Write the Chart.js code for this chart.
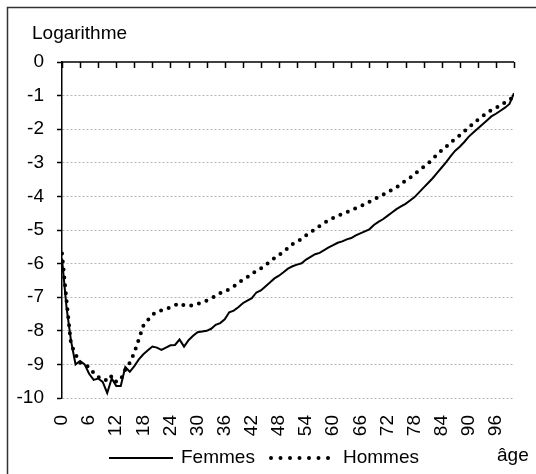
<!DOCTYPE html>
<html>
<head>
<meta charset="utf-8">
<script src="https://cdn.jsdelivr.net/npm/chart.js@4.4.0/dist/chart.umd.min.js"></script>
<style>
  body { margin: 0; background: #fff; }
  #wrap { width: 536px; height: 474px; }
</style>
</head>
<body>
<div id="wrap"><canvas id="chart" width="536" height="474"></canvas></div>
<script>
// ages 0..100
const ages = Array.from({ length: 101 }, (_, i) => i);

// log mortality, women
const femmes = [
  -5.85, -7.3, -8.3, -9.0, -8.9, -9.0, -9.28, -9.46, -9.42, -9.52,
  -9.85, -9.42, -9.64, -9.64, -9.08, -9.22, -9.05, -8.85, -8.7, -8.58,
  -8.47, -8.5, -8.57, -8.5, -8.43, -8.42, -8.26, -8.47, -8.28, -8.15,
  -8.04, -8.02, -8.0, -7.94, -7.82, -7.77, -7.66, -7.45, -7.4, -7.3,
  -7.18, -7.1, -7.03, -6.86, -6.8, -6.68, -6.56, -6.44, -6.36, -6.26,
  -6.15, -6.08, -6.03, -5.99, -5.88, -5.8, -5.72, -5.68, -5.6, -5.52,
  -5.45, -5.38, -5.34, -5.28, -5.24, -5.16, -5.1, -5.04, -4.98, -4.85,
  -4.76, -4.68, -4.58, -4.48, -4.38, -4.3, -4.22, -4.12, -4.02, -3.88,
  -3.74, -3.6, -3.46, -3.3, -3.14, -2.98, -2.8, -2.64, -2.52, -2.38,
  -2.22, -2.1, -1.98, -1.86, -1.74, -1.62, -1.54, -1.45, -1.36, -1.25,
  -0.93
];

// log mortality, men
const hommes = [
  -5.7, -7.1, -8.4, -8.7, -8.95, -9.0, -9.08, -9.25, -9.38, -9.39,
  -9.5, -9.34, -9.52, -9.45, -9.15, -8.95, -8.65, -8.25, -7.85, -7.68,
  -7.52, -7.44, -7.39, -7.35, -7.3, -7.24, -7.18, -7.24, -7.26, -7.24,
  -7.2, -7.15, -7.1, -7.04, -6.96, -6.88, -6.83, -6.76, -6.68, -6.58,
  -6.48, -6.4, -6.32, -6.2, -6.14, -6.06, -5.93, -5.84, -5.75, -5.64,
  -5.54, -5.42, -5.34, -5.27, -5.16, -5.06, -4.98, -4.88, -4.79, -4.71,
  -4.64, -4.58, -4.52, -4.47, -4.41, -4.35, -4.29, -4.24, -4.16, -4.09,
  -4.02, -3.95, -3.88, -3.8, -3.73, -3.63, -3.53, -3.44, -3.34, -3.22,
  -3.12, -3.02, -2.88, -2.76, -2.63, -2.52, -2.38, -2.3, -2.18, -2.06,
  -1.96, -1.82, -1.72, -1.62, -1.52, -1.43, -1.36, -1.3, -1.2, -1.12,
  -1.03
];

const seriesNames = ['Femmes', 'Hommes'];
const yTitle = 'Logarithme';
const xTitle = 'âge';
const FONT = '"Liberation Sans", Arial, sans-serif';

// frame, top axis with inward ticks, legend and texts
const extras = {
  id: 'extras',
  afterDraw(chart) {
    const ctx = chart.ctx;
    const x = chart.scales.x, y = chart.scales.y;
    const top = y.getPixelForValue(0);
    ctx.save();

    // outer frame
    ctx.strokeStyle = '#333';
    ctx.lineWidth = 1.5;
    ctx.strokeRect(7.5, 7.5, 600, 600);

    // top axis
    ctx.strokeStyle = '#000';
    ctx.lineWidth = 1.5;
    ctx.beginPath();
    ctx.moveTo(x.getPixelForValue(0), top);
    ctx.lineTo(x.getPixelForValue(100), top);
    for (let a = 0; a <= 100; a += 4) {
      const px = Math.round(x.getPixelForValue(a)) + 0.5;
      ctx.moveTo(px, top);
      ctx.lineTo(px, top + 6);
    }
    ctx.stroke();

    ctx.fillStyle = '#000';
    ctx.font = '19px ' + FONT;
    ctx.textBaseline = 'middle';
    ctx.textAlign = 'left';
    ctx.fillText(yTitle, 32, 34);

    // legend
    const ly = 458;
    ctx.lineWidth = 2;
    ctx.beginPath();
    ctx.moveTo(109, ly);
    ctx.lineTo(173, ly);
    ctx.stroke();
    ctx.fillText(seriesNames[0], 181, ly);

    ctx.lineWidth = 4;
    ctx.lineCap = 'round';
    ctx.setLineDash([0, 9.5]);
    ctx.beginPath();
    ctx.moveTo(271, ly);
    ctx.lineTo(329, ly);
    ctx.stroke();
    ctx.setLineDash([]);
    ctx.fillText(seriesNames[1], 343, ly);

    ctx.fillText(xTitle, 497, ly - 2);
    ctx.restore();
  }
};

new Chart(document.getElementById('chart').getContext('2d'), {
  type: 'line',
  data: {
    labels: ages,
    datasets: [
      {
        label: seriesNames[0],
        data: femmes,
        borderColor: '#000',
        borderWidth: 2,
        pointRadius: 0,
        tension: 0
      },
      {
        label: seriesNames[1],
        data: hommes,
        borderColor: '#000',
        borderWidth: 4,
        borderDash: [0, 8],
        borderCapStyle: 'round',
        pointRadius: 0,
        tension: 0
      }
    ]
  },
  options: {
    responsive: false,
    animation: false,
    devicePixelRatio: 1,
    layout: { padding: { top: 62, right: 22, left: 0, bottom: 0 } },
    plugins: { legend: { display: false }, tooltip: { enabled: false } },
    scales: {
      x: {
        type: 'linear',
        min: 0,
        max: 100,
        afterFit: (s) => { s.height = 76; },
        afterBuildTicks: (s) => {
          s.ticks = [];
          for (let a = 0; a <= 96; a += 6) s.ticks.push({ value: a });
        },
        grid: { display: false },
        border: { display: false },
        ticks: {
          minRotation: 90,
          maxRotation: 90,
          padding: 9,
          color: '#000',
          font: { family: FONT, size: 19 }
        }
      },
      y: {
        min: -10,
        max: 0,
        afterFit: (s) => { s.width = 62; },
        border: { display: true, color: '#000', width: 1.5, dash: [2, 2] },
        grid: {
          color: (c) => c.tick && c.tick.value === 0 ? 'rgba(0,0,0,0)' : '#b4b4b4',
          lineWidth: 1,
          tickLength: 5,
          tickColor: '#000',
          tickWidth: 1.5,
          tickBorderDash: []
        },
        ticks: {
          stepSize: 1,
          padding: 13,
          color: '#000',
          font: { family: FONT, size: 19 }
        }
      }
    }
  },
  plugins: [extras]
});
</script>
</body>
</html>
